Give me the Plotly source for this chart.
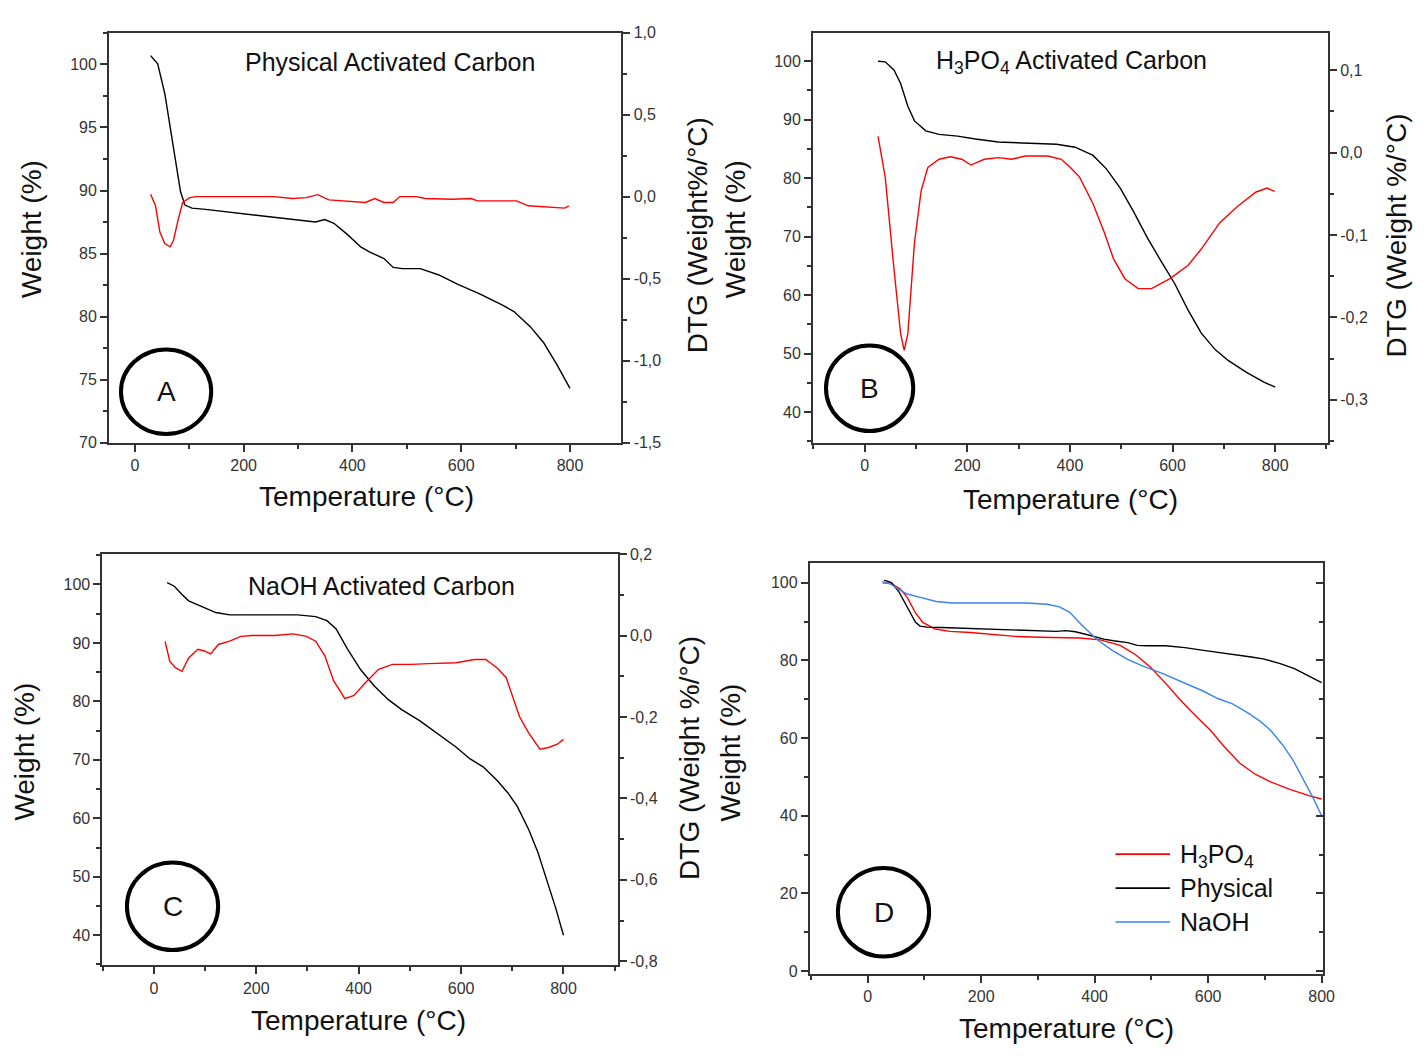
import plotly.graph_objects as go

W_PX, H_PX = 1426, 1056

# ---------------- data ----------------
# Panel A: Physical activated carbon
temp_phys_w = [29, 42, 55, 67, 76, 84, 92, 105, 130, 172, 214, 256, 298, 332, 349, 366, 391, 416,
               433, 458, 475, 492, 525, 559, 592, 634, 676, 697, 727, 752, 777, 800]
weight_phys = [100.7, 100.05, 97.7, 94.6, 92.2, 89.9, 88.85, 88.6, 88.5, 88.3, 88.1, 87.9, 87.7, 87.5,
               87.7, 87.4, 86.5, 85.5, 85.1, 84.6, 83.9, 83.8, 83.8, 83.3, 82.6, 81.8, 80.9, 80.4,
               79.2, 77.9, 76.1, 74.3]
temp_phys_d = [29, 38, 46, 55, 65, 71, 80, 88, 101, 113, 256, 290, 315, 336, 357, 399, 424, 441, 458,
               475, 487, 517, 534, 584, 618, 630, 702, 723, 752, 790, 798]
dtg_phys = [0.014, -0.056, -0.216, -0.286, -0.306, -0.266, -0.136, -0.036, -0.006, 0.0, 0.0, -0.012,
            -0.006, 0.012, -0.02, -0.028, -0.036, -0.012, -0.036, -0.036, 0.0, 0.0, -0.012, -0.016,
            -0.012, -0.026, -0.026, -0.056, -0.062, -0.07, -0.056]

# Panel B: H3PO4 activated carbon
temp_h3po4_w = [26, 40, 57, 70, 84, 97, 119, 145, 181, 216, 260, 304, 374, 410, 445, 471, 498, 524,
                551, 577, 604, 630, 656, 683, 709, 744, 779, 800]
weight_h3po4 = [100, 99.9, 98.5, 96.2, 92.3, 89.8, 88.1, 87.5, 87.2, 86.7, 86.2, 86.0, 85.8, 85.3,
                83.9, 81.6, 78.3, 74.3, 69.8, 65.9, 62.0, 57.5, 53.5, 50.7, 48.8, 46.8, 45.1, 44.3]
temp_h3po4_d = [26, 40, 57, 70, 77, 84, 97, 110, 123, 145, 167, 189, 207, 233, 260, 286, 313, 357,
                383, 401, 419, 445, 467, 485, 507, 533, 559, 595, 630, 656, 692, 727, 762, 784, 799]
dtg_h3po4 = [0.0198, -0.030, -0.141, -0.220, -0.240, -0.220, -0.109, -0.046, -0.018, -0.008, -0.005,
             -0.008, -0.015, -0.008, -0.006, -0.008, -0.004, -0.004, -0.008, -0.018, -0.030, -0.062,
             -0.097, -0.129, -0.153, -0.165, -0.165, -0.153, -0.137, -0.117, -0.085, -0.065, -0.048,
             -0.043, -0.047]

# Panel C: NaOH activated carbon
temp_naoh_w = [26, 40, 55, 68, 86, 104, 121, 148, 192, 281, 316, 338, 356, 378, 404, 431, 458, 484,
               519, 555, 590, 617, 643, 670, 692, 710, 732, 750, 767, 785, 800]
weight_naoh = [100.3, 99.7, 98.3, 97.2, 96.5, 95.9, 95.2, 94.8, 94.8, 94.8, 94.5, 93.8, 92.4, 89.0,
               85.4, 82.6, 80.3, 78.6, 76.7, 74.4, 72.2, 70.2, 68.8, 66.5, 64.3, 62.0, 58.1, 54.2,
               49.7, 44.6, 40.0]
temp_naoh_d = [22, 31, 42, 55, 68, 86, 99, 111, 126, 148, 170, 192, 236, 272, 298, 316, 334, 351, 373,
               391, 414, 439, 466, 502, 537, 590, 626, 648, 670, 688, 714, 732, 754, 771, 788, 800]
dtg_naoh = [-0.0144, -0.063, -0.079, -0.088, -0.055, -0.034, -0.038, -0.045, -0.022, -0.014, -0.002,
            0.0, 0.0, 0.004, -0.002, -0.014, -0.050, -0.111, -0.155, -0.147, -0.115, -0.083, -0.071,
            -0.071, -0.069, -0.067, -0.059, -0.059, -0.079, -0.103, -0.199, -0.239, -0.279, -0.275,
            -0.267, -0.255]

# tick labels
temp_ticks = [0, 200, 400, 600, 800]
wA_ticks = [70, 75, 80, 85, 90, 95, 100]
dA_ticks = [-1.5, -1.0, -0.5, 0.0, 0.5, 1.0]
dA_labels = ["-1,5", "-1,0", "-0,5", "0,0", "0,5", "1,0"]
wBC_ticks = [40, 50, 60, 70, 80, 90, 100]
dB_ticks = [-0.3, -0.2, -0.1, 0.0, 0.1]
dB_labels = ["-0,3", "-0,2", "-0,1", "0,0", "0,1"]
dC_ticks = [-0.8, -0.6, -0.4, -0.2, 0.0, 0.2]
dC_labels = ["-0,8", "-0,6", "-0,4", "-0,2", "0,0", "0,2"]
wD_ticks = [0, 20, 40, 60, 80, 100]

legend_names = ["H<sub>3</sub>PO<sub>4</sub>", "Physical", "NaOH"]

# ---------------- styling ----------------
FONT = "Liberation Sans, Arial, sans-serif"
AX = "#333333"
RED, BLACK, BLUE = "#ff0000", "#000000", "#3b82f0"
LW = 1.4


def px_x(x):
    return x / W_PX


def px_y(y):
    return 1 - y / H_PX


def xdom(l, r):
    return [px_x(l), px_x(r)]


def ydom(t, b):
    return [px_y(b), px_y(t)]


tickfont = dict(family=FONT, size=16, color=AX)


def xax(dom, rng, anchor, minor_dt=100):
    return dict(domain=dom, range=rng, anchor=anchor, showgrid=False, zeroline=False,
                showline=True, linecolor=AX, linewidth=2, mirror=True,
                ticks="outside", ticklen=7, tickwidth=2, tickcolor=AX,
                tickvals=temp_ticks, tickfont=tickfont,
                minor=dict(ticks="outside", ticklen=4, tickwidth=2, tickcolor=AX, dtick=minor_dt,
                           tick0=0, showgrid=False))


def yax(dom, rng, anchor, tv, tt=None, minor_dt=None, side="left", overlay=None, mirror=False,
        ticks="outside", showlabels=True):
    d = dict(domain=dom, range=rng, anchor=anchor, side=side, showgrid=False, zeroline=False,
             showline=True, linecolor=AX, linewidth=2, mirror=mirror,
             ticks=ticks, ticklen=7, tickwidth=2, tickcolor=AX,
             tickvals=tv, tickfont=tickfont, showticklabels=showlabels,
             minor=dict(ticks=ticks, ticklen=4, tickwidth=2, tickcolor=AX, dtick=minor_dt,
                        tick0=tv[0], showgrid=False))
    if tt is not None:
        d["ticktext"] = tt
    if overlay:
        d["overlaying"] = overlay
    return d


fig = go.Figure()

# Panel A
fig.add_trace(go.Scatter(x=temp_phys_w, y=weight_phys, mode="lines", line=dict(color=BLACK, width=LW),
                         xaxis="x", yaxis="y", showlegend=False))
fig.add_trace(go.Scatter(x=temp_phys_d, y=dtg_phys, mode="lines", line=dict(color=RED, width=LW),
                         xaxis="x", yaxis="y2", showlegend=False))
# Panel B
fig.add_trace(go.Scatter(x=temp_h3po4_w, y=weight_h3po4, mode="lines", line=dict(color=BLACK, width=LW),
                         xaxis="x2", yaxis="y3", showlegend=False))
fig.add_trace(go.Scatter(x=temp_h3po4_d, y=dtg_h3po4, mode="lines", line=dict(color=RED, width=LW),
                         xaxis="x2", yaxis="y4", showlegend=False))
# Panel C
fig.add_trace(go.Scatter(x=temp_naoh_w, y=weight_naoh, mode="lines", line=dict(color=BLACK, width=LW),
                         xaxis="x3", yaxis="y5", showlegend=False))
fig.add_trace(go.Scatter(x=temp_naoh_d, y=dtg_naoh, mode="lines", line=dict(color=RED, width=LW),
                         xaxis="x3", yaxis="y6", showlegend=False))
# Panel D
fig.add_trace(go.Scatter(x=temp_h3po4_w, y=weight_h3po4, mode="lines", line=dict(color=RED, width=LW),
                         xaxis="x4", yaxis="y7", showlegend=False))
fig.add_trace(go.Scatter(x=temp_phys_w, y=weight_phys, mode="lines", line=dict(color=BLACK, width=LW),
                         xaxis="x4", yaxis="y7", showlegend=False))
fig.add_trace(go.Scatter(x=temp_naoh_w, y=weight_naoh, mode="lines", line=dict(color=BLUE, width=LW),
                         xaxis="x4", yaxis="y7", showlegend=False))
fig.add_trace(go.Scatter(x=temp_naoh_w, y=weight_naoh, mode="lines", line=dict(color="rgba(0,0,0,0)", width=0),
                         xaxis="x4", yaxis="y8", showlegend=False, hoverinfo="skip"))

# Domains (pixel edges of each plot frame)
A_x, A_y = xdom(110, 626.7), ydom(25, 441.7)
B_x, B_y = xdom(820, 1339.3), ydom(25, 441.7)
C_x, C_y = xdom(103.3, 623), ydom(555, 973)
D_x, D_y = xdom(816.7, 1334), ydom(564.3, 981.5)

fig.update_layout(
    width=W_PX, height=H_PX, margin=dict(l=0, r=0, t=0, b=0),
    paper_bgcolor="white", plot_bgcolor="white", showlegend=False,
    font=dict(family=FONT, color="#111"),
    xaxis=xax(A_x, [-47.4, 894.6], "y"),
    yaxis=yax(A_y, [70, 102.53], "x", wA_ticks, minor_dt=2.5),
    yaxis2=yax(A_y, [-1.5, 1.0], "x", dA_ticks, dA_labels, minor_dt=0.25, side="right", overlay="y"),
    xaxis2=xax(B_x, [-100.6, 903], "y3"),
    yaxis3=yax(B_y, [34.8, 104.9], "x2", wBC_ticks, minor_dt=5),
    yaxis4=yax(B_y, [-0.352, 0.1458], "x2", dB_ticks, dB_labels, minor_dt=0.05, side="right", overlay="y3"),
    xaxis3=xax(C_x, [-100.4, 906], "y5"),
    yaxis5=yax(C_y, [34.85, 105.2], "x3", wBC_ticks, minor_dt=5),
    yaxis6=yax(C_y, [-0.81, 0.2], "x3", dC_ticks, dC_labels, minor_dt=0.1, side="right", overlay="y5"),
    xaxis4=xax(D_x, [-102, 802], "y7"),
    yaxis7=yax(D_y, [-0.7, 105.06], "x4", wD_ticks, minor_dt=10),
    yaxis8=yax(D_y, [-0.7, 105.06], "x4", wD_ticks, minor_dt=10, side="right", overlay="y7",
               ticks="inside", showlabels=False),
)

ann = []


def text(x, y, s, size, angle=0, xanchor="center"):
    ann.append(dict(x=px_x(x), y=px_y(y), xref="paper", yref="paper", text=s, showarrow=False,
                    textangle=angle, xanchor=xanchor, yanchor="middle",
                    font=dict(family=FONT, size=size, color="#111")))


# panel titles
text(393, 55, "Physical Activated Carbon", 25)
text(1081, 55, "H<sub>3</sub>PO<sub>4</sub> Activated Carbon", 25)
text(385, 587, "NaOH Activated Carbon", 25)

# axis titles
for (x, y) in [(32, 225), (742, 225), (25, 756), (737, 757)]:
    text(x, y, "Weight (%)", 28, angle=-90)
text(703, 231, "DTG (Weight%/°C)", 28, angle=-90)
text(1408, 231, "DTG (Weight %/°C)", 28, angle=-90)
text(696, 762, "DTG (Weight %/°C)", 28, angle=-90)
for (x, y) in [(370, 497), (1080, 500), (362, 1029), (1076, 1037)]:
    text(x, y, "Temperature (°C)", 28)

# circled letters
shapes = []
for (cx, cy, rx, ry, letter) in [(167.5, 390, 45.5, 43, "A"), (877, 386.5, 44, 43.5, "B"),
                                 (174, 913, 46, 44.5, "C"), (891, 919, 46, 45, "D")]:
    shapes.append(dict(type="circle", xref="paper", yref="paper",
                       x0=px_x(cx - rx), x1=px_x(cx + rx), y0=px_y(cy + ry), y1=px_y(cy - ry),
                       line=dict(color="black", width=4), fillcolor="rgba(0,0,0,0)"))
    text(cx, cy, letter, 28)

# legend for panel D
for i, (name, col) in enumerate(zip(legend_names, [RED, BLACK, BLUE])):
    yy = 860 + i * 34.5
    shapes.append(dict(type="line", xref="paper", yref="paper", x0=px_x(1125), x1=px_x(1180),
                       y0=px_y(yy), y1=px_y(yy), line=dict(color=col, width=1.6)))
    text(1188, yy + (2 if i == 0 else 0), name, 25, xanchor="left")

fig.update_layout(annotations=ann, shapes=shapes)

fig.write_html("out.html")
